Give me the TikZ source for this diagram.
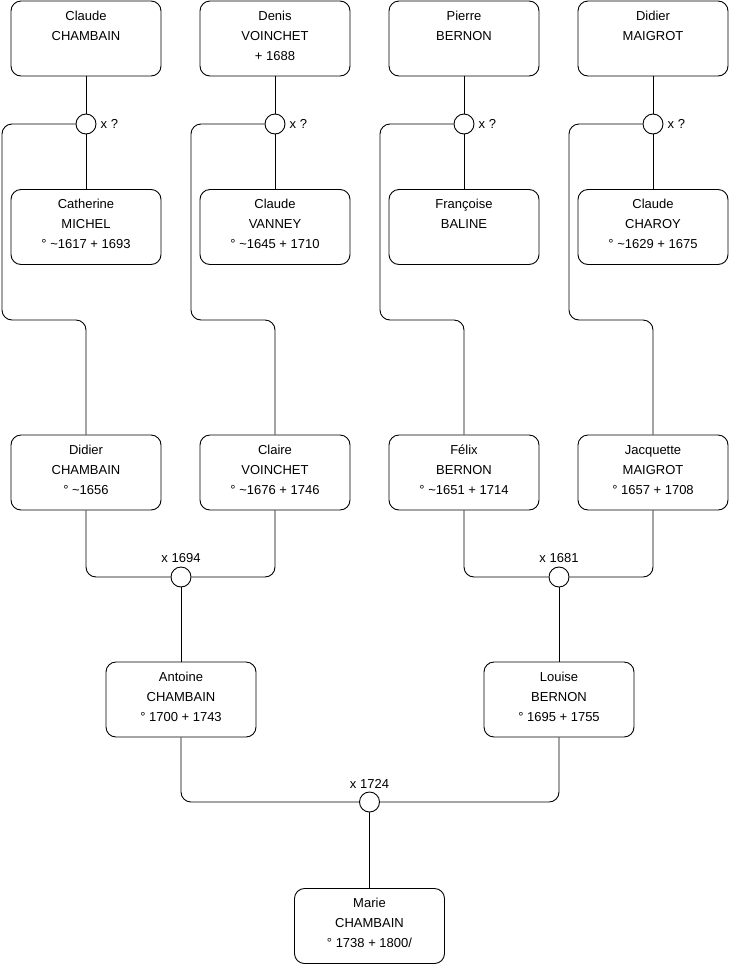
\documentclass[tikz,border=0pt]{standalone}
\usepackage{fontspec}
\setmainfont{Liberation Sans}
\newcommand\tstrut{\rule{0pt}{12pt}}
\begin{document}
\begin{tikzpicture}[x=1pt,y=-1pt,
  pbox/.style={draw, line width=0.9pt, rounded corners=10pt, minimum width=150pt, minimum height=75pt, inner sep=0pt, fill=white},
  ptext/.style={anchor=north, align=center, inner sep=0pt, font=\fontsize{13}{20}\selectfont},
  mnode/.style={draw, circle, line width=0.9pt, minimum size=20pt, inner sep=0pt, fill=white},
  mlab/.style={inner sep=0pt, font=\fontsize{13}{16}\selectfont},
  conn/.style={line width=0.9pt, rounded corners=10pt}]
\useasboundingbox (0,0) rectangle (740,975);

% row 1
\node[pbox] (a1) at (86,38.5) {};
\node[pbox] (a2) at (275,38.5) {};
\node[pbox] (a3) at (464,38.5) {};
\node[pbox] (a4) at (653,38.5) {};
% row 2
\node[pbox] (b1) at (86,227) {};
\node[pbox] (b2) at (275,227) {};
\node[pbox] (b3) at (464,227) {};
\node[pbox] (b4) at (653,227) {};
% row 3
\node[pbox] (c1) at (86,472.5) {};
\node[pbox] (c2) at (275,472.5) {};
\node[pbox] (c3) at (464,472.5) {};
\node[pbox] (c4) at (653,472.5) {};
% row 4
\node[pbox] (d1) at (181,699.5) {};
\node[pbox] (d2) at (559,699.5) {};
% row 5
\node[pbox] (e1) at (369.5,926) {};

% texts
\node[ptext] (a1t) at ([yshift=-7.5]a1.north) {\tstrut Claude\\CHAMBAIN};
\node[ptext] (a2t) at ([yshift=-7.5]a2.north) {\tstrut Denis\\VOINCHET\\+ 1688};
\node[ptext] (a3t) at ([yshift=-7.5]a3.north) {\tstrut Pierre\\BERNON};
\node[ptext] (a4t) at ([yshift=-7.5]a4.north) {\tstrut Didier\\MAIGROT};
\node[ptext] (b1t) at ([yshift=-7.5]b1.north) {\tstrut Catherine\\MICHEL\\° \textasciitilde1617 + 1693};
\node[ptext] (b2t) at ([yshift=-7.5]b2.north) {\tstrut Claude\\VANNEY\\° \textasciitilde1645 + 1710};
\node[ptext] (b3t) at ([yshift=-7.5]b3.north) {\tstrut Françoise\\BALINE};
\node[ptext] (b4t) at ([yshift=-7.5]b4.north) {\tstrut Claude\\CHAROY\\° \textasciitilde1629 + 1675};
\node[ptext] (c1t) at ([yshift=-7.5]c1.north) {\tstrut Didier\\CHAMBAIN\\° \textasciitilde1656};
\node[ptext] (c2t) at ([yshift=-7.5]c2.north) {\tstrut Claire\\VOINCHET\\° \textasciitilde1676 + 1746};
\node[ptext] (c3t) at ([yshift=-7.5]c3.north) {\tstrut Félix\\BERNON\\° \textasciitilde1651 + 1714};
\node[ptext] (c4t) at ([yshift=-7.5]c4.north) {\tstrut Jacquette\\MAIGROT\\° 1657 + 1708};
\node[ptext] (d1t) at ([yshift=-7.5]d1.north) {\tstrut Antoine\\CHAMBAIN\\° 1700 + 1743};
\node[ptext] (d2t) at ([yshift=-7.5]d2.north) {\tstrut Louise\\BERNON\\° 1695 + 1755};
\node[ptext] (e1t) at ([yshift=-7.5]e1.north) {\tstrut Marie\\CHAMBAIN\\° 1738 + 1800/};

% marriage nodes
\node[mnode] (m1) at (86,124) {};
\node[mnode] (m2) at (275,124) {};
\node[mnode] (m3) at (464,124) {};
\node[mnode] (m4) at (653,124) {};
\node[mnode] (m5) at (181,577) {};
\node[mnode] (m6) at (559,577) {};
\node[mnode] (m7) at (369.5,802) {};

% bend coordinates
\coordinate (j1) at (2,320);
\coordinate (j2) at (191,320);
\coordinate (j3) at (380,320);
\coordinate (j4) at (569,320);

% connectors
\draw[conn] (a1.south) -- (m1.north);
\draw[conn] (a2.south) -- (m2.north);
\draw[conn] (a3.south) -- (m3.north);
\draw[conn] (a4.south) -- (m4.north);
\draw[conn] (m1.south) -- (b1.north);
\draw[conn] (m2.south) -- (b2.north);
\draw[conn] (m3.south) -- (b3.north);
\draw[conn] (m4.south) -- (b4.north);
\draw[conn] (m1.west) -| (j1) -| (c1.north);
\draw[conn] (m2.west) -| (j2) -| (c2.north);
\draw[conn] (m3.west) -| (j3) -| (c3.north);
\draw[conn] (m4.west) -| (j4) -| (c4.north);
\draw[conn] (c1.south) |- (m5.west);
\draw[conn] (c2.south) |- (m5.east);
\draw[conn] (c3.south) |- (m6.west);
\draw[conn] (c4.south) |- (m6.east);
\draw[conn] (m5.south) -- (d1.north);
\draw[conn] (m6.south) -- (d2.north);
\draw[conn] (d1.south) |- (m7.west);
\draw[conn] (d2.south) |- (m7.east);
\draw[conn] (m7.south) -- (e1.north);

% labels
\node[mlab, anchor=base west] (l1) at ([xshift=4,yshift=-4.5]m1.east) {x ?};
\node[mlab, anchor=base west] (l2) at ([xshift=4,yshift=-4.5]m2.east) {x ?};
\node[mlab, anchor=base west] (l3) at ([xshift=4,yshift=-4.5]m3.east) {x ?};
\node[mlab, anchor=base west] (l4) at ([xshift=4,yshift=-4.5]m4.east) {x ?};
\node[mlab, anchor=base] (l5) at ([yshift=4]m5.north) {x 1694};
\node[mlab, anchor=base] (l6) at ([yshift=4]m6.north) {x 1681};
\node[mlab, anchor=base] (l7) at ([yshift=3.5]m7.north) {x 1724};
\end{tikzpicture}
\end{document}
